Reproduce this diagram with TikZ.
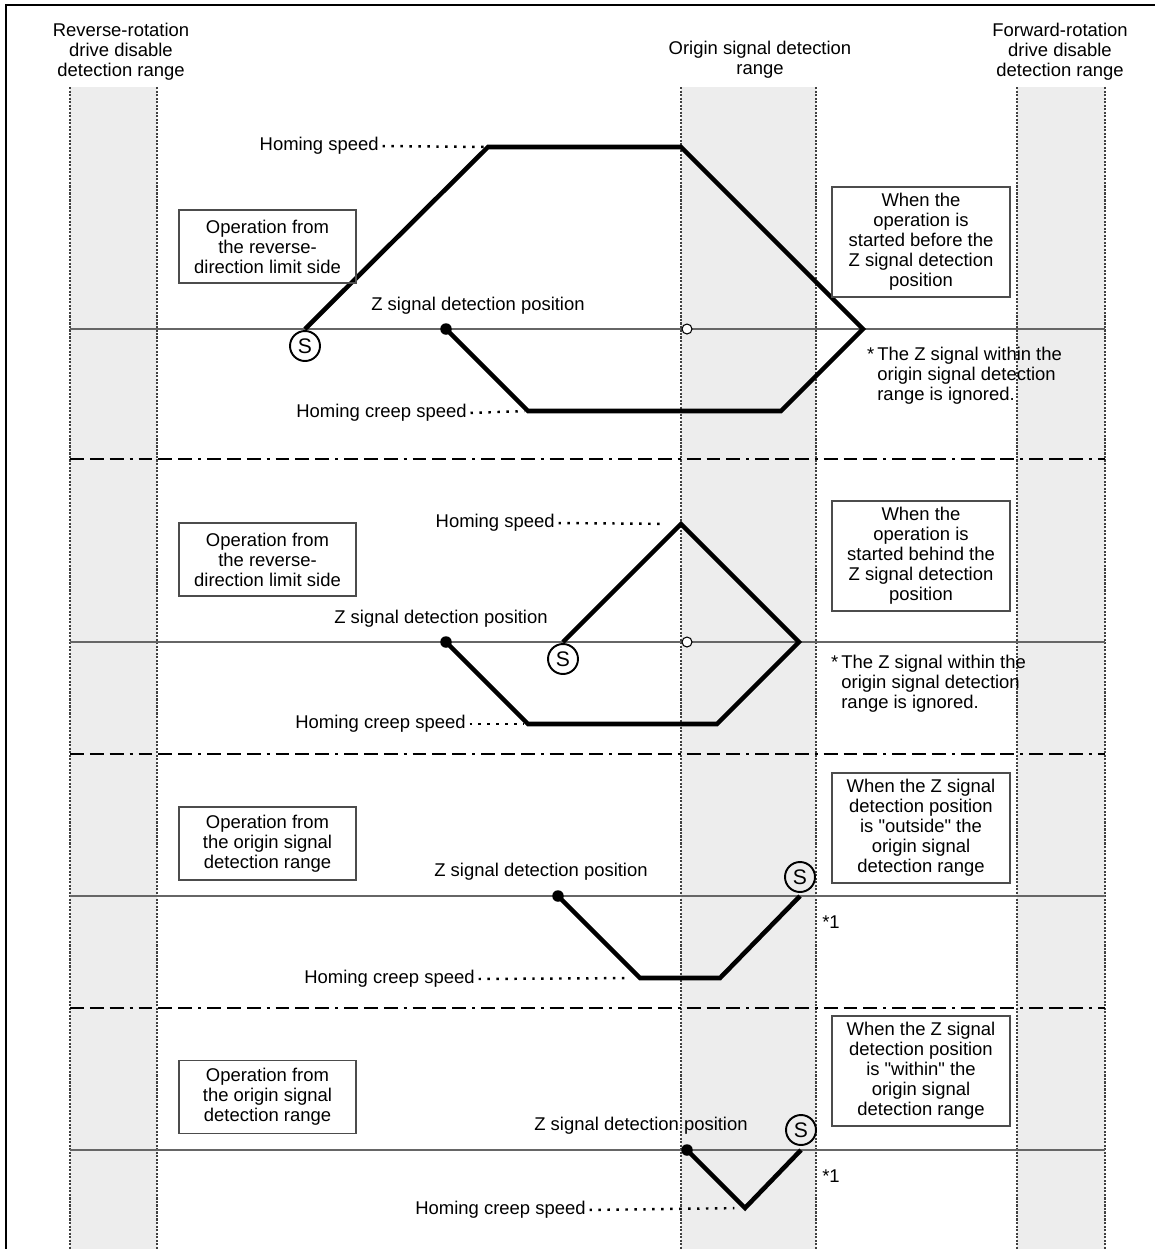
\documentclass[tikz,border=0pt]{standalone}
\usepackage{fontspec}
\setmainfont{Liberation Sans}
\usepackage{tikz}

\begin{document}
\begin{tikzpicture}[x=0.02cm,y=-0.02cm,
    every node/.style={font=\fontsize{10.5}{11.34}\selectfont,inner sep=0pt},
    band/.style={fill=black!7},
    edge/.style={draw=black!75,line width=0.7pt,dash pattern=on 1.2pt off 0.8pt},
    axis/.style={draw=black!60,line width=1.1pt},
    split/.style={line width=1.4pt,dash pattern=on 7.9pt off 3.4pt on 7.9pt off 3.4pt on 7.9pt off 3.4pt on 1.7pt off 3.4pt},
    profile/.style={line width=2.6pt,line join=miter},
    leader/.style={line width=1.4pt,dash pattern=on 1.4pt off 3.7pt,shorten <=2pt,shorten >=2pt},
    box/.style={draw=black!70,line width=0.8pt,align=center,minimum width=3.54cm,minimum height=1.46cm},
    casebox/.style={draw=black!70,line width=0.8pt,align=center,minimum width=3.56cm,minimum height=2.2cm},
    smark/.style={circle,draw,line width=1.1pt,minimum size=0.6cm,font=\fontsize{12}{12}\selectfont},
    zdot/.style={circle,fill,minimum size=0.23cm},
    odot/.style={circle,draw,fill=white,line width=0.6pt,minimum size=0.2cm}]
  \useasboundingbox[fill=white] (0,0) rectangle (1155,1249);
  \draw[line width=1.2pt] (6,1249) -- (6,5) -- (1155,5);
  % detection ranges
  \fill[band] (70,87) rectangle (157,1249);
  \fill[band] (681,87) rectangle (816,1249);
  \fill[band] (1017,87) rectangle (1105,1249);
  \draw[edge] (70,87) -- (70,1249);   \draw[edge] (157,87) -- (157,1249);
  \draw[edge] (681,87) -- (681,1249); \draw[edge] (816,87) -- (816,1249);
  \draw[edge] (1017,87) -- (1017,1249); \draw[edge] (1105,87) -- (1105,1249);
  \node[align=center] (rrange) at (121,52) {Reverse-rotation\\drive disable\\detection range};
  \node[align=center] (orange) at (760,60) {Origin signal detection\\range};
  \node[align=center] (frange) at (1060,52) {Forward-rotation\\drive disable\\detection range};
  % position axes and separators
  \draw[axis] (70,329) -- (1105,329);
  \draw[axis] (70,642) -- (1105,642);
  \draw[axis] (70,896) -- (1105,896);
  \draw[axis] (70,1150) -- (1105,1150);
  \draw[split] (70,459) -- (1105,459);
  \draw[split] (70,754) -- (1105,754);
  \draw[split] (70,1008) -- (1105,1008);

  % case 1
  \coordinate (a1) at (488,147); \coordinate (b1) at (681,147); \coordinate (c1) at (863,329);
  \coordinate (d1) at (781,411); \coordinate (e1) at (528,411);
  \node[smark] (s1) at (305,346) {S};
  \node[zdot] (z1) at (446,329) {};
  \draw[profile] (s1 |- z1) -- (a1) -- (b1) -- (c1) -- (d1) -- (e1) -- (z1.center);
  \node[odot] (o1) at (687,329) {};
  \node[anchor=east] (hs1) at (379,146) {Homing speed};
  \node[anchor=east] (hc1) at (467,413) {Homing creep speed};
  \node (zl1) at (478,306) {Z signal detection position};
  \draw[leader] (hs1.east) -- (a1);
  \draw[leader] (hc1.east) -- (e1);
  \node[box] (op1) at (267.5,246.5) {Operation from\\the reverse-\\direction limit side};
  \node[casebox] (case1) at (921,242) {When the\\operation is\\started before the\\Z signal detection\\position};
  \node[anchor=north west,align=left] (ign1) at (877,347) {\llap{*\,}The Z signal within the\\origin signal detection\\range is ignored.};

  % case 2
  \coordinate (a2) at (681,524); \coordinate (b2) at (799,642);
  \coordinate (c2) at (717,724); \coordinate (d2) at (528,724);
  \node[smark] (s2) at (563,659) {S};
  \node[zdot] (z2) at (446,642) {};
  \draw[profile] (s2 |- z2) -- (a2) -- (b2) -- (c2) -- (d2) -- (z2.center);
  \node[odot] (o2) at (687,642) {};
  \node[anchor=east] (hs2) at (555,523) {Homing speed};
  \node[anchor=east] (hc2) at (466,724) {Homing creep speed};
  \node (zl2) at (441,619) {Z signal detection position};
  \draw[leader,shorten >=12pt] (hs2.east) -- (a2);
  \draw[leader] (hc2.east) -- (d2);
  \node[box] (op2) at (267.5,559.5) {Operation from\\the reverse-\\direction limit side};
  \node[casebox] (case2) at (921,556) {When the\\operation is\\started behind the\\Z signal detection\\position};
  \node[anchor=north west,align=left] (ign2) at (841,655) {\llap{*\,}The Z signal within the\\origin signal detection\\range is ignored.};

  % case 3
  \coordinate (a3) at (720,978); \coordinate (b3) at (640,978);
  \node[smark] (s3) at (800,877) {S};
  \node[zdot] (z3) at (558,896) {};
  \draw[profile] (s3 |- z3) -- (a3) -- (b3) -- (z3.center);
  \node[anchor=east] (hc3) at (475,979) {Homing creep speed};
  \node (zl3) at (541,872) {Z signal detection position};
  \draw[leader,shorten >=6pt] (hc3.east) -- (b3);
  \node (fn3) at (831,922) {*1};
  \node[box] (op3) at (267.5,843.5) {Operation from\\the origin signal\\detection range};
  \node[casebox] (case3) at (921,828) {When the Z signal\\detection position\\is \textquotedbl outside\textquotedbl\ the\\origin signal\\detection range};

  % case 4
  \coordinate (a4) at (745,1208);
  \node[smark] (s4) at (801,1130) {S};
  \node[zdot] (z4) at (687,1150) {};
  \draw[profile] (s4 |- z4) -- (a4) -- (z4.center);
  \node[anchor=east] (hc4) at (586,1210) {Homing creep speed};
  \node (zl4) at (641,1126) {Z signal detection position};
  \draw[leader,shorten >=6pt] (hc4.east) -- (a4);
  \node (fn4) at (831,1176) {*1};
  \node[box] (op4) at (267.5,1097) {Operation from\\the origin signal\\detection range};
  \node[casebox] (case4) at (921,1071) {When the Z signal\\detection position\\is \textquotedbl within\textquotedbl\ the\\origin signal\\detection range};
\end{tikzpicture}
\end{document}
